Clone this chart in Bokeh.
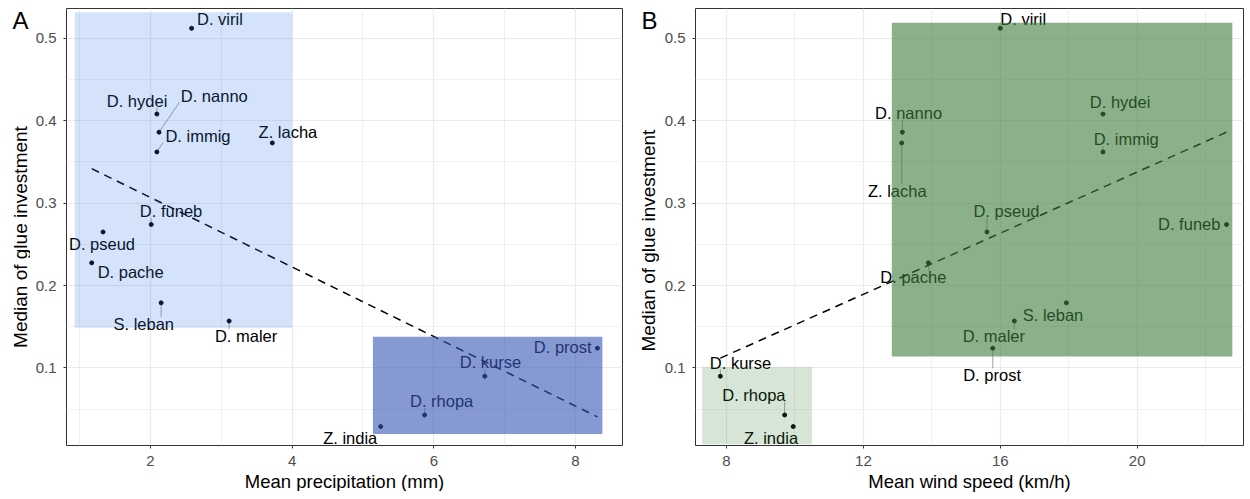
from bokeh.plotting import figure
from bokeh.layouts import row
from bokeh.models import Range1d, FixedTicker
from bokeh.embed import file_html
from bokeh.resources import INLINE
from bokeh.core.properties import value
import numpy as np

# ---------------- data ----------------
species = ["D. viril", "D. hydei", "D. nanno", "D. immig", "Z. lacha", "D. funeb", "D. pseud",
           "D. pache", "S. leban", "D. maler", "D. prost", "D. kurse", "D. rhopa", "Z. india"]
glue = [0.512, 0.408, 0.386, 0.362, 0.373, 0.274, 0.265, 0.2275, 0.179, 0.157, 0.124, 0.090, 0.043, 0.029]
precip = [2.58, 2.09, 2.12, 2.09, 3.72, 2.01, 1.33, 1.17, 2.15, 3.11, 8.31, 6.72, 5.87, 5.25]
wind = [16.0, 19.0, 13.14, 19.0, 13.12, 22.61, 15.61, 13.9, 17.93, 16.41, 15.78, 7.82, 9.7, 9.95]

y_ticks = [0.1, 0.2, 0.3, 0.4, 0.5]
y_minor = [0.05, 0.15, 0.25, 0.35, 0.45]
precip_ticks = [2, 4, 6, 8]
precip_minor = [1, 3, 5, 7]
wind_ticks = [8, 12, 16, 20]
wind_minor = [10, 14, 18, 22]

# cluster shading regions (left, right, bottom, top)
precip_clusters = [(0.93, 4.0, 0.1487, 0.5316), (5.14, 8.38, 0.02, 0.138)]
wind_clusters = [(12.83, 22.78, 0.114, 0.5187), (7.29, 10.5, 0.0075, 0.1008)]

# label placements (repelled labels)
precip_lab_x = [2.98, 1.81, 2.90, 2.67, 3.94, 2.29, 1.315, 1.72, 1.905, 3.35, 7.82, 6.80, 6.11, 4.82]
precip_lab_y = [0.5234, 0.4243, 0.4303, 0.3818, 0.3867, 0.290, 0.2504, 0.216, 0.1533, 0.1383, 0.1257, 0.1068, 0.0595, 0.0146]
wind_lab_x = [16.67, 19.5, 13.32, 19.68, 12.99, 21.52, 16.18, 13.46, 17.54, 15.81, 15.76, 8.41, 8.80, 9.30]
wind_lab_y = [0.5235, 0.4224, 0.409, 0.3772, 0.3146, 0.2742, 0.290, 0.2103, 0.1647, 0.1384, 0.0912, 0.1066, 0.0677, 0.0156]
precip_seg = {"D. hydei", "D. nanno", "D. immig", "D. funeb", "S. leban", "D. maler", "D. kurse", "D. rhopa"}
wind_seg = {"D. nanno", "Z. lacha", "D. immig", "D. pseud", "D. pache", "D. maler", "D. prost", "D. kurse", "D. rhopa"}

FONT = "Liberation Sans"
LAB_FS = 16.5
H = 499


def kill_title(f):
    f.title.text = ""
    f.title.text_font_size = "0px"
    f.title.standoff = 0
    f.title.visible = False


def strip(letter, letter_xy, title_xy, w):
    """Narrow figure holding the panel letter and the rotated y-axis title."""
    s = figure(width=w, height=H, x_range=Range1d(0, w), y_range=Range1d(H, 0),
               output_backend="svg", toolbar_location=None,
               x_axis_location=None, y_axis_location=None,
               min_border=0, min_border_left=0, min_border_right=0,
               min_border_top=0, min_border_bottom=0)
    kill_title(s)
    s.outline_line_color = None
    s.background_fill_color = "white"
    s.border_fill_color = "white"
    s.xgrid.visible = False
    s.ygrid.visible = False
    s.text(x=[letter_xy[0]], y=[letter_xy[1]], text=[letter], text_font=value(FONT),
           text_font_size="24px", text_align="center", text_baseline="middle", text_color="black")
    s.text(x=[title_xy[0]], y=[title_xy[1]], text=["Median of glue investment"], text_font=value(FONT),
           text_font_size="19px", text_align="center", text_baseline="middle", text_color="black",
           angle=np.pi / 2)
    return s


def panel(xv, lab_x, lab_y, segs, xr, xticks, xminor, clusters, fills, xlabel,
          mbl, mbr, mbt, fw, fh):
    yr = (0.006, 0.536)
    p = figure(frame_width=fw, frame_height=fh, x_range=Range1d(*xr), y_range=Range1d(*yr),
               output_backend="svg", toolbar_location=None,
               min_border_left=mbl, min_border_right=mbr, min_border_top=mbt, min_border_bottom=10)
    kill_title(p)
    p.background_fill_color = "white"
    p.border_fill_color = "white"
    p.outline_line_color = "#333333"
    p.outline_line_width = 1

    p.xaxis.ticker = FixedTicker(ticks=xticks, minor_ticks=xminor)
    p.yaxis.ticker = FixedTicker(ticks=y_ticks, minor_ticks=y_minor)
    for g in (p.xgrid, p.ygrid):
        g.grid_line_color = "#ebebeb"
        g.grid_line_width = 1.2
        g.minor_grid_line_color = "#ebebeb"
        g.minor_grid_line_width = 0.7
    for ax in (p.xaxis, p.yaxis):
        ax.axis_line_color = None
        ax.major_tick_line_color = "#333333"
        ax.major_tick_out = 3
        ax.major_tick_in = 0
        ax.minor_tick_line_color = None
        ax.major_label_text_font = FONT
        ax.major_label_text_font_size = "15px"
        ax.major_label_text_color = "#4d4d4d"
        ax.axis_label_text_font = FONT
        ax.axis_label_text_font_size = "18.5px"
        ax.axis_label_text_font_style = "normal"
        ax.axis_label_text_color = "black"
    p.xaxis.major_label_standoff = 6
    p.xaxis.axis_label_standoff = 2
    p.yaxis.major_label_standoff = 6
    p.xaxis.axis_label = xlabel

    # labels
    p.text(x=lab_x, y=lab_y, text=species, text_font=value(FONT), text_font_size=f"{LAB_FS}px",
           text_align="center", text_baseline="middle", text_color="black")

    # segments from points to label boxes
    sx = fw / (xr[1] - xr[0])
    sy = fh / (yr[1] - yr[0])
    x0s, y0s, x1s, y1s = [], [], [], []
    for name, px, py, lx, ly in zip(species, xv, glue, lab_x, lab_y):
        if name not in segs:
            continue
        hw = 0.265 * LAB_FS * len(name)
        hh = 0.42 * LAB_FS
        dxp = (px - lx) * sx
        dyp = (py - ly) * sy
        cx = min(max(dxp, -hw), hw)
        cy = min(max(dyp, -hh), hh)
        ex, ey = lx + cx / sx, ly + cy / sy
        vx, vy = (ex - px) * sx, (ey - py) * sy
        d = (vx ** 2 + vy ** 2) ** 0.5
        if d < 1e-6:
            continue
        pad = 2.0
        x0s.append(px + vx / d * pad / sx)
        y0s.append(py + vy / d * pad / sy)
        x1s.append(ex)
        y1s.append(ey)
    p.segment(x0=x0s, y0=y0s, x1=x1s, y1=y1s, line_color="#8a8a8a", line_width=0.8)

    # points
    p.scatter(x=xv, y=glue, size=4, color="black")

    # regression line
    coef = np.polyfit(np.array(xv), np.array(glue), 1)
    xs = np.array([min(xv), max(xv)])
    p.line(x=xs, y=np.polyval(coef, xs), line_dash="8 6", line_width=1.5, line_color="black")

    # shaded regions on top
    for (l, r, b, t), (fc, fa) in zip(clusters, fills):
        p.quad(left=[l], right=[r], bottom=[b], top=[t], fill_color=fc, fill_alpha=fa, line_color=None)
    return p


sa = strip("A", (20, 13.5), (19.5, 258), 30)
pa = panel(precip, precip_lab_x, precip_lab_y, precip_seg, (0.814, 8.664), precip_ticks, precip_minor,
           precip_clusters, [("#2873e1", 0.2), ("#3755b6", 0.6)], "Mean precipitation (mm)",
           36, 8, 5, 556, 437)
sb = strip("B", (19, 13.5), (18, 262), 29)
pb = panel(wind, wind_lab_x, wind_lab_y, wind_seg, (7.094, 23.106), wind_ticks, wind_minor,
           wind_clusters, [("#3e7b3c", 0.6), ("#327d2d", 0.2)], "Mean wind speed (km/h)",
           36, 7, 8, 548, 437)

layout = row(sa, pa, sb, pb)
open("out.html", "w").write(file_html(layout, INLINE))
